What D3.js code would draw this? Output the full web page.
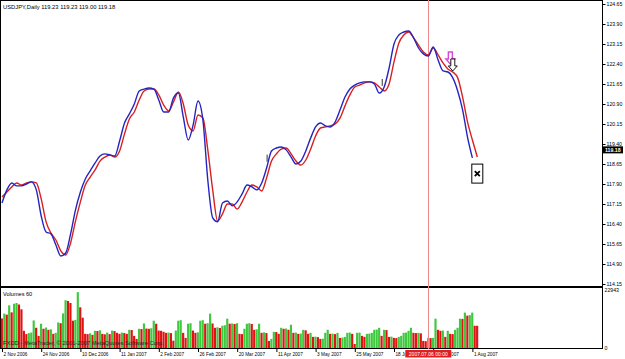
<!DOCTYPE html>
<html>
<head>
<meta charset="utf-8">
<script src="https://cdn.jsdelivr.net/npm/d3@7"></script>
<style>
  body { margin: 0; background: #fff; }
  svg { display: block; font-family: "Liberation Sans", Arial, sans-serif; }
</style>
</head>
<body>
<div id="chart"></div>
<script>
// ---- data ----
const titleText = "USDJPY,Daily  119.23 119.23 119.00 119.18";
const lastPrice = 119.18;
const priceTicks = [124.65, 123.90, 123.15, 122.40, 121.65, 120.90, 120.15, 119.40,
    118.65, 117.90, 117.15, 116.40, 115.65, 114.90, 114.15];
const dateLabels = ["2 Nov 2006", "24 Nov 2006", "10 Dec 2006", "11 Jan 2007", "2 Feb 2007",
    "26 Feb 2007", "20 Mar 2007", "11 Apr 2007", "3 May 2007", "25 May 2007",
    "18 Jun 2007", "10 Jul 2007", "1 Aug 2007"];
const barsPerLabel = 16;
const lineStep = 2; // MA values below are given every 2nd bar

const blueMA = [117.19, 117.68, 117.94, 117.83, 117.83, 117.90, 117.98, 117.68, 116.70, 116.10,
    116.03, 115.61, 115.20, 115.31, 116.03, 116.93, 117.60, 118.09, 118.39, 118.69,
    118.95, 119.03, 118.99, 118.95, 119.51, 120.19, 120.53, 120.90, 121.39, 121.46,
    121.50, 121.46, 121.05, 120.60, 120.60, 121.13, 121.31, 120.41, 119.55, 120.11,
    121.01, 120.30, 118.05, 116.63, 116.48, 117.19, 117.26, 117.08, 117.23, 117.53,
    117.86, 117.79, 117.68, 117.94, 118.50, 119.14, 119.25, 119.29, 119.18, 118.91,
    118.65, 118.76, 119.14, 119.63, 120.04, 120.19, 120.08, 120.04, 120.23, 120.68,
    121.16, 121.46, 121.61, 121.69, 121.73, 121.73, 121.65, 121.31, 121.54, 122.25,
    123.15, 123.49, 123.60, 123.64, 123.38, 123.00, 122.78, 122.70, 123.04, 122.55,
    122.14, 122.10, 121.88, 121.39, 120.68, 119.66, 118.88];

const redMA = [117.41, 117.60, 117.79, 117.94, 117.86, 117.94, 117.98, 117.94, 117.34, 116.48,
    116.06, 115.80, 115.39, 115.24, 115.69, 116.51, 117.23, 117.86, 118.16, 118.43,
    118.76, 118.91, 118.99, 118.91, 119.14, 119.78, 120.34, 120.60, 121.05, 121.39,
    121.46, 121.46, 121.24, 120.86, 120.64, 120.98, 121.35, 120.90, 120.11, 119.89,
    120.49, 120.38, 119.18, 117.68, 116.51, 116.78, 117.15, 117.15, 116.96, 117.23,
    117.60, 117.86, 117.79, 117.64, 118.13, 118.76, 119.03, 119.21, 119.25, 119.03,
    118.76, 118.61, 118.80, 119.21, 119.70, 120.00, 120.04, 120.08, 120.15, 120.38,
    120.83, 121.24, 121.54, 121.61, 121.69, 121.73, 121.69, 121.54, 121.39, 121.65,
    122.48, 123.19, 123.49, 123.60, 123.38, 123.11, 122.85, 122.74, 123.00, 122.74,
    122.44, 122.21, 122.10, 121.88, 121.16, 120.23, 119.55, 118.91];

const volumes = [11700, 13600, 13200, 16900, 14100, 17500, 17800, 17200, 15300, 6800,
    5500, 5900, 6100, 10900, 8000, 4800, 9600, 7600, 8100, 7200,
    7400, 5600, 6000, 10100, 9800, 13700, 18900, 18600, 17800, 10800,
    11100, 22100, 16100, 12000, 5600, 5500, 5800, 5200, 6800, 6700,
    7000, 5600, 5400, 6100, 5500, 6900, 6700, 6000, 5600, 6100,
    5900, 5600, 7200, 7100, 4800, 3600, 7600, 7500, 9700, 7700,
    7600, 7800, 10800, 9600, 6900, 6800, 6400, 6000, 6100, 5900,
    2900, 6900, 10800, 11000, 6000, 4000, 9600, 9800, 6900, 6000,
    6200, 10800, 11000, 9600, 9800, 13600, 9700, 8000, 8200, 7900,
    8800, 9000, 11600, 9600, 9700, 9500, 9800, 5600, 5500, 7600,
    9600, 9800, 9500, 7200, 7400, 9600, 6000, 6200, 5900, 2800,
    3600, 6400, 6300, 5600, 8000, 7600, 7700, 7200, 9200, 6000,
    6100, 5600, 5700, 7200, 7000, 5600, 6000, 4400, 4500, 4300,
    3600, 3700, 6000, 7200, 5600, 5700, 5500, 6000, 4000, 4100,
    4400, 6000, 6100, 5600, 1600, 6000, 6100, 4800, 4400, 5600,
    5700, 6000, 7200, 7300, 8000, 4800, 7200, 7100, 4400, 4500,
    4000, 3900, 4400, 4800, 6000, 6100, 6800, 8000, 6000, 5900,
    6000, 5800, 2800, 2700, 4000, 3900, 4000, 11600, 7200, 6800,
    6900, 4400, 6800, 5600, 5500, 7200, 8000, 11600, 11500, 14000,
    12800, 13000, 14000, 8800, 8800];
const volMax = 22943;

const vLineBar = 174;
const vLineText = "2007.07.06 00:00";
// objects placed on the chart: [bar, price]
const pinkArrow = [183, 122.85];
const blackArrow = [184, 122.59];
const closeBox = [194, 118.29];
const smallMarks = [[108, 119.00], [155, 121.84]];

// ---- layout ----
const W = 625, H = 359;
const AXIS_X = 602;
const MAIN = { top: 0, bottom: 286 };
const VOL = { top: 287, bottom: 348 };

const svg = d3.select("#chart").append("svg")
    .attr("width", W).attr("height", H);

const x = d3.scaleLinear().domain([0, volumes.length - 1]).range([2, 477.3]);
const y = d3.scaleLinear().domain([114.15, 124.65]).range([284, 4]);
const yVol = d3.scaleLinear().domain([0, volMax]).range([VOL.bottom, 290]);
const barW = x(1) - x(0);

// Frames
svg.append("rect").attr("x", 0.5).attr("y", MAIN.top + 0.5)
    .attr("width", AXIS_X).attr("height", MAIN.bottom - MAIN.top)
    .attr("fill", "none").attr("stroke", "#000");
svg.append("rect").attr("x", 0.5).attr("y", VOL.top + 0.5)
    .attr("width", AXIS_X).attr("height", VOL.bottom - VOL.top)
    .attr("fill", "none").attr("stroke", "#000");

// Volume histogram (green when volume rises, red otherwise)
svg.append("g").selectAll("rect")
    .data(volumes)
    .join("rect")
    .attr("x", (d, i) => x(i) - barW / 2)
    .attr("width", barW - 0.3)
    .attr("y", d => yVol(d))
    .attr("height", d => VOL.bottom - yVol(d))
    .attr("fill", (d, i) => i > 0 && d > volumes[i - 1] ? "#3ec83e" : "#e01212");

// Vertical line
svg.append("line")
    .attr("x1", Math.round(x(vLineBar)) + 0.5).attr("x2", Math.round(x(vLineBar)) + 0.5)
    .attr("y1", 0).attr("y2", VOL.bottom + 1)
    .attr("stroke", "#f08a8a").attr("stroke-width", 1);

// Moving averages
const line = d3.line()
    .x((d, i) => x(i * lineStep))
    .y(d => y(d))
    .curve(d3.curveMonotoneX);

svg.append("path").datum(redMA).attr("d", line)
    .attr("fill", "none").attr("stroke", "#d82020").attr("stroke-width", 1.4);
svg.append("path").datum(blueMA).attr("d", line)
    .attr("fill", "none").attr("stroke", "#2424c0").attr("stroke-width", 1.4);

// Small black marks
svg.append("g").selectAll("line")
    .data(smallMarks)
    .join("line")
    .attr("x1", d => x(d[0]) + 0.5).attr("x2", d => x(d[0]) + 0.5)
    .attr("y1", d => y(d[1])).attr("y2", d => y(d[1]) + 7)
    .attr("stroke", "#000").attr("stroke-width", 0.8);

// Down arrows (hollow)
function arrowPath(cx, top) {
    return `M${cx - 2},${top} L${cx + 2},${top} L${cx + 2},${top + 7} L${cx + 4.5},${top + 7}
            L${cx},${top + 12} L${cx - 4.5},${top + 7} L${cx - 2},${top + 7} Z`;
}
svg.append("path").attr("d", arrowPath(x(pinkArrow[0]), y(pinkArrow[1])))
    .attr("fill", "none").attr("stroke", "#d848d8").attr("stroke-width", 1.4);
svg.append("path").attr("d", arrowPath(x(blackArrow[0]), y(blackArrow[1])))
    .attr("fill", "#fff").attr("stroke", "#000").attr("stroke-width", 0.9);

// Close box with a cross
const bx = x(closeBox[0]), by = y(closeBox[1]);
svg.append("rect").attr("x", bx - 5.5).attr("y", by - 9.5).attr("width", 11).attr("height", 19)
    .attr("fill", "#fff").attr("stroke", "#000");
svg.append("path").attr("d", `M${bx - 2.5},${by - 2.5} L${bx + 2.5},${by + 2.5} M${bx + 2.5},${by - 2.5} L${bx - 2.5},${by + 2.5}`)
    .attr("stroke", "#000").attr("stroke-width", 1.8);

// Price axis
const priceAxis = d3.axisRight(y).tickValues(priceTicks).tickSize(3).tickPadding(1)
    .tickFormat(d3.format(".2f"));
const gPrice = svg.append("g").attr("transform", `translate(${AXIS_X + 0.5},0)`).call(priceAxis);
gPrice.select(".domain").remove();
gPrice.selectAll("text").attr("font-size", 5.2).attr("font-family", "Liberation Sans").attr("fill", "#000");

// Volume axis
const volAxis = d3.axisRight(yVol).tickValues([volMax, 0]).tickSize(0).tickPadding(2)
    .tickFormat(d3.format("d"));
const gVol = svg.append("g").attr("transform", `translate(${AXIS_X + 0.5},0)`).call(volAxis);
gVol.select(".domain").remove();
gVol.selectAll("text").attr("font-size", 5.2).attr("font-family", "Liberation Sans").attr("fill", "#000");

// Right edge line
svg.append("line").attr("x1", AXIS_X + 0.5).attr("x2", AXIS_X + 0.5)
    .attr("y1", 0).attr("y2", VOL.bottom + 1).attr("stroke", "#000");

// Current price label
const py = y(lastPrice);
svg.append("rect").attr("x", AXIS_X + 1).attr("y", py - 3.5).attr("width", 20).attr("height", 7)
    .attr("fill", "#000");
svg.append("text").attr("x", AXIS_X + 3).attr("y", py + 2)
    .attr("font-size", 5.2).attr("font-weight", "bold").attr("fill", "#fff")
    .text(lastPrice.toFixed(2));

// Date axis; the red date box hides part of the labels under it
const lx = x(vLineBar);
const boxW = 46;
const clip = svg.append("clipPath").attr("id", "dateClip");
clip.append("rect").attr("x", 0).attr("y", 340).attr("width", lx - boxW / 2).attr("height", 19);
clip.append("rect").attr("x", lx + boxW / 2).attr("y", 340).attr("width", W).attr("height", 19);

const gDates = svg.append("g");
gDates.selectAll("line")
    .data(dateLabels)
    .join("line")
    .attr("x1", (d, i) => x(i * barsPerLabel) + 0.5).attr("x2", (d, i) => x(i * barsPerLabel) + 0.5)
    .attr("y1", VOL.bottom + 1).attr("y2", VOL.bottom + 4)
    .attr("stroke", "#000");
gDates.selectAll("text")
    .data(dateLabels)
    .join("text")
    .attr("x", (d, i) => x(i * barsPerLabel) + 1.5)
    .attr("y", 356)
    .attr("font-size", 4.7)
    .attr("fill", "#000")
    .attr("clip-path", "url(#dateClip)")
    .text(d => d);

svg.append("rect").attr("x", lx - boxW / 2).attr("y", 350).attr("width", boxW).attr("height", 7.5)
    .attr("fill", "#e02020");
svg.append("text").attr("x", lx).attr("y", 356).attr("text-anchor", "middle")
    .attr("font-size", 5).attr("fill", "#fff").text(vLineText);

// Titles
svg.append("text").attr("x", 3).attr("y", 9).attr("font-size", 5.8).attr("fill", "#000")
    .text(titleText);
svg.append("text").attr("x", 3).attr("y", 296).attr("font-size", 5.6).attr("fill", "#000")
    .text("Volumes 60");
svg.append("text").attr("x", 3).attr("y", 345).attr("font-size", 5.8).attr("fill", "#222")
    .text("FXDD - MetaTrader, \u00a9 2001-2007 MetaQuotes Software Corp.");
</script>
</body>
</html>
